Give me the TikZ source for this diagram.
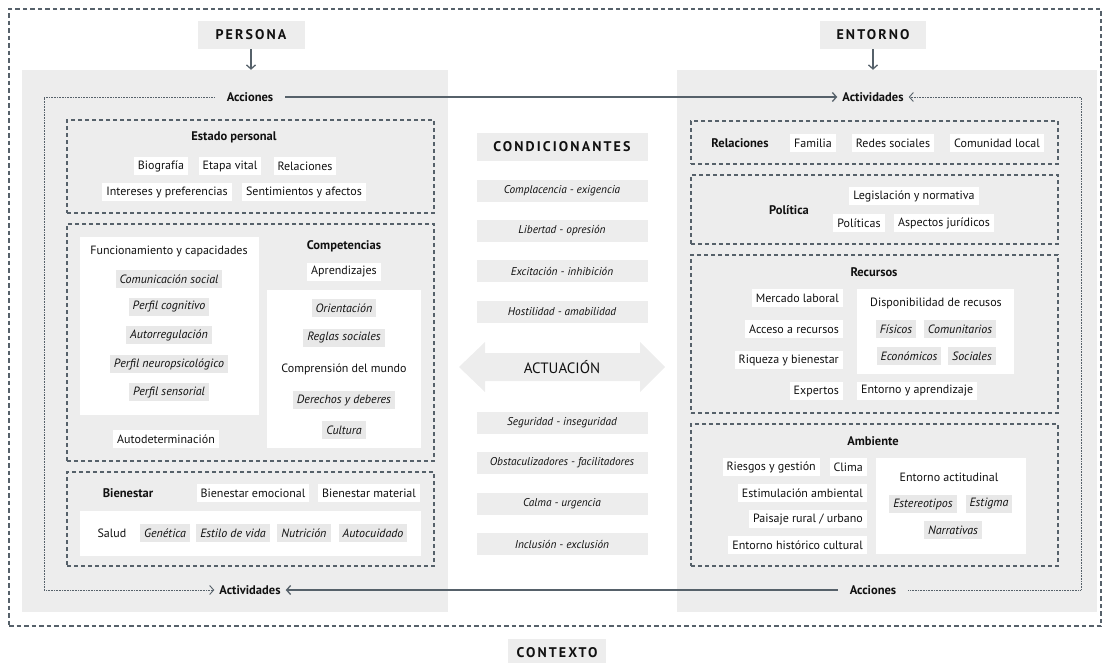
\documentclass[tikz,border=0pt]{standalone}
\usepackage{fontspec}
\setmainfont{PT Sans}
\newfontfamily\capsfont[LetterSpace=15]{PT Sans}
\usetikzlibrary{arrows.meta,fit}

\definecolor{panelgray}{HTML}{EDEDED}
\definecolor{chipgray}{HTML}{E8E8E8}
\definecolor{linegray}{HTML}{56616A}
\definecolor{ink}{HTML}{111111}

\providecommand{\Frame}[4]{\node[#1, fit={(#3) (#4)}] (#2) {};}
\providecommand{\Tag}[3]{\node[tag] (#1) at (#2) {#3};}
\providecommand{\ITag}[3]{\node[itag] (#1) at (#2) {#3};}
\providecommand{\RTag}[3]{\node[tag, anchor=east] (#1) at (#2) {#3};}

\tikzset{
  panel/.style={fill=panelgray, inner sep=0pt},
  group/.style={draw=linegray, line width=1.3pt, dash pattern=on 4pt off 3pt, inner sep=0pt},
  context/.style={draw=linegray, line width=1.3pt, dash pattern=on 4.5pt off 3pt, inner sep=0pt},
  card/.style={fill=white, inner sep=0pt},
  tag/.style={fill=white, text=ink, font=\fontsize{12}{14}\selectfont, inner xsep=4pt, inner ysep=0pt, minimum height=18pt},
  itag/.style={tag, fill=chipgray, font=\fontsize{12}{14}\selectfont\itshape},
  txt/.style={tag, fill=none},
  head/.style={text=ink, font=\fontsize{12.5}{14}\selectfont\bfseries, inner sep=0pt},
  title/.style={fill=panelgray, text=ink, font=\fontsize{14}{16}\selectfont\capsfont\bfseries, minimum height=28pt},
  cond/.style={fill=panelgray, text=ink, font=\fontsize{11.3}{13}\selectfont\itshape, minimum width=171pt, minimum height=22pt, inner sep=0pt},
  verb/.style={text=ink, font=\fontsize{12.5}{14}\selectfont\bfseries, inner xsep=5pt},
  flow/.style={draw=linegray, line width=1.3pt, -{Straight Barb[length=4pt,width=9pt]}},
  dotline/.style={draw=linegray, line width=1pt, dash pattern=on 0.7pt off 0.9pt},
  down/.style={draw=linegray, line width=1.3pt, -{Straight Barb[length=4pt,width=9pt]}},
}

\begin{document}
\begin{tikzpicture}[x=1pt,y=-1pt]
\useasboundingbox (0,0) rectangle (1106,662);

% context and the two panels
\Frame{context}{ctx}{9,9}{1101,626}
\Frame{panel}{lpanel}{22,70}{448,612}
\Frame{panel}{rpanel}{677,70}{1097,612}

\node[title, minimum width=107pt] (pers) at (251,35) {PERSONA};
\node[title, minimum width=106pt] (ent) at (873,35) {ENTORNO};
\draw[down] (pers) -- (pers |- lpanel.north);
\draw[down] (ent) -- (ent |- rpanel.north);

% acciones / actividades
\node[verb, inner xsep=12pt] (accL) at (250,97) {Acciones};
\node[verb] (actR) at (873,97) {Actividades};
\node[verb] (actL) at (250,590) {Actividades};
\node[verb, inner xsep=12pt] (accR) at (873,590) {Acciones};
\coordinate (lcorn) at (44,590);
\coordinate (rcorn) at (1081,97);
\draw[flow] (accL) -- (actR);
\draw[flow] (accR) -- (actL);
\draw[dotline, -{Straight Barb[length=4pt,width=9pt,line width=0.9pt]}] (accL.west) -| (lcorn) -- (actL.west);
\draw[dotline, -{Straight Barb[length=4pt,width=9pt,line width=0.9pt]}] (accR.east) -| (rcorn) -- (actR.east);

% persona: estado personal
\Frame{group}{estado}{67,120}{434,213}
\node[head] (estT) at (234,137) {Estado personal};
\Tag{bio}{161,166}{Biografía}
\Tag{etapa}{230,166}{Etapa vital}
\Tag{relP}{305,166}{Relaciones}
\Tag{inter}{167,192}{Intereses y preferencias}
\Tag{senti}{304,192}{Sentimientos y afectos}

% persona: funcionamiento y competencias
\Frame{group}{funcG}{67,224}{434,461}
\Frame{card}{funcC}{80,237}{259,415}
\node[txt] (funcT) at (169,251) {Funcionamiento y capacidades};
\ITag{comu}{169,279}{Comunicación social}
\ITag{cogn}{169,307}{Perfil cognitivo}
\ITag{autor}{169,335}{Autorregulación}
\ITag{neuro}{169,364}{Perfil neuropsicológico}
\ITag{senso}{169,392}{Perfil sensorial}
\Tag{autod}{166,439}{Autodeterminación}
\node[head] (compT) at (344,246) {Competencias};
\Tag{apren}{344,272}{Aprendizajes}
\Frame{card}{compC}{267,290}{421,448}
\ITag{orien}{344,308}{Orientación}
\ITag{reglas}{344,338}{Reglas sociales}
\node[txt] (compr) at (344,369) {Comprensión del mundo};
\ITag{derech}{344,400}{Derechos y deberes}
\ITag{cult}{344,430}{Cultura}

% persona: bienestar
\Frame{group}{bienG}{67,472}{434,566}
\node[head] (bienT) at (128,493) {Bienestar};
\Tag{bemo}{253,493}{Bienestar emocional}
\Tag{bmat}{369,493}{Bienestar material}
\Frame{card}{saludC}{80,511}{421,556}
\node[txt] (salud) at (112,533) {Salud};
\ITag{genet}{165,533}{Genética}
\ITag{estilo}{233,533}{Estilo de vida}
\ITag{nutri}{304,533}{Nutrición}
\ITag{autoc}{373,533}{Autocuidado}

% condicionantes
\node[title, minimum width=171pt] (cond) at (562,147) {CONDICIONANTES};
\node[cond] (c1) at (562,191) {Complacencia - exigencia};
\node[cond] (c2) at (562,231) {Libertad - opresión};
\node[cond] (c3) at (562,271) {Excitación - inhibición};
\node[cond] (c4) at (562,312) {Hostilidad - amabilidad};
\fill[panelgray] (459,367) -- (485,342) -- (485,353) -- (640,353) -- (640,342) -- (665,367)
  -- (640,392) -- (640,381) -- (485,381) -- (485,392) -- cycle;
\node[text=ink, font=\fontsize{15}{17}\selectfont] (actu) at (562,367) {ACTUACIÓN};
\node[cond] (c5) at (562,423) {Seguridad - inseguridad};
\node[cond] (c6) at (562,463) {Obstaculizadores - facilitadores};
\node[cond] (c7) at (562,504) {Calma - urgencia};
\node[cond] (c8) at (562,544) {Inclusión - exclusión};

% entorno: relaciones
\Frame{group}{relG}{691,121}{1058,164}
\node[head] (relT) at (740,143) {Relaciones};
\Tag{fam}{813,143}{Familia}
\Tag{redes}{893,143}{Redes sociales}
\Tag{comun}{997,143}{Comunidad local}

% entorno: politica
\Frame{group}{polG}{691,175}{1058,244}
\node[head] (polT) at (789,210) {Política};
\Tag{legis}{914,196}{Legislación y normativa}
\Tag{polit}{859,223}{Políticas}
\Tag{aspec}{944,223}{Aspectos jurídicos}

% entorno: recursos
\Frame{group}{recG}{691,255}{1058,413}
\node[head] (recT) at (874,272) {Recursos};
\RTag{merc}{843,298}{Mercado laboral}
\RTag{acce}{843,329}{Acceso a recursos}
\RTag{riq}{843,360}{Riqueza y bienestar}
\RTag{expe}{843,391}{Expertos}
\Frame{card}{dispC}{857,289}{1014,374}
\node[txt] (disp) at (936,303) {Disponibilidad de recusos};
\ITag{fisi}{896,329}{Físicos}
\ITag{comunit}{960,329}{Comunitarios}
\ITag{econ}{909,356}{Económicos}
\ITag{soci}{972,356}{Sociales}
\node[tag, anchor=west] (entap) at (857,391) {Entorno y aprendizaje};

% entorno: ambiente
\Frame{group}{ambG}{691,424}{1058,566}
\node[head] (ambT) at (873,441) {Ambiente};
\RTag{ries}{820,467}{Riesgos y gestión}
\RTag{clima}{867,467}{Clima}
\RTag{estim}{867,493}{Estimulación ambiental}
\RTag{paisa}{867,519}{Paisaje rural / urbano}
\RTag{histo}{867,545}{Entorno histórico cultural}
\Frame{card}{actiC}{876,458}{1026,554}
\node[txt] (actit) at (949,477) {Entorno actitudinal};
\ITag{estereo}{923,504}{Estereotipos}
\ITag{estig}{989,504}{Estigma}
\ITag{narra}{953,530}{Narrativas}

\node[title, minimum width=98pt] (ctxT) at (557,653) {CONTEXTO};
\end{tikzpicture}
\end{document}
